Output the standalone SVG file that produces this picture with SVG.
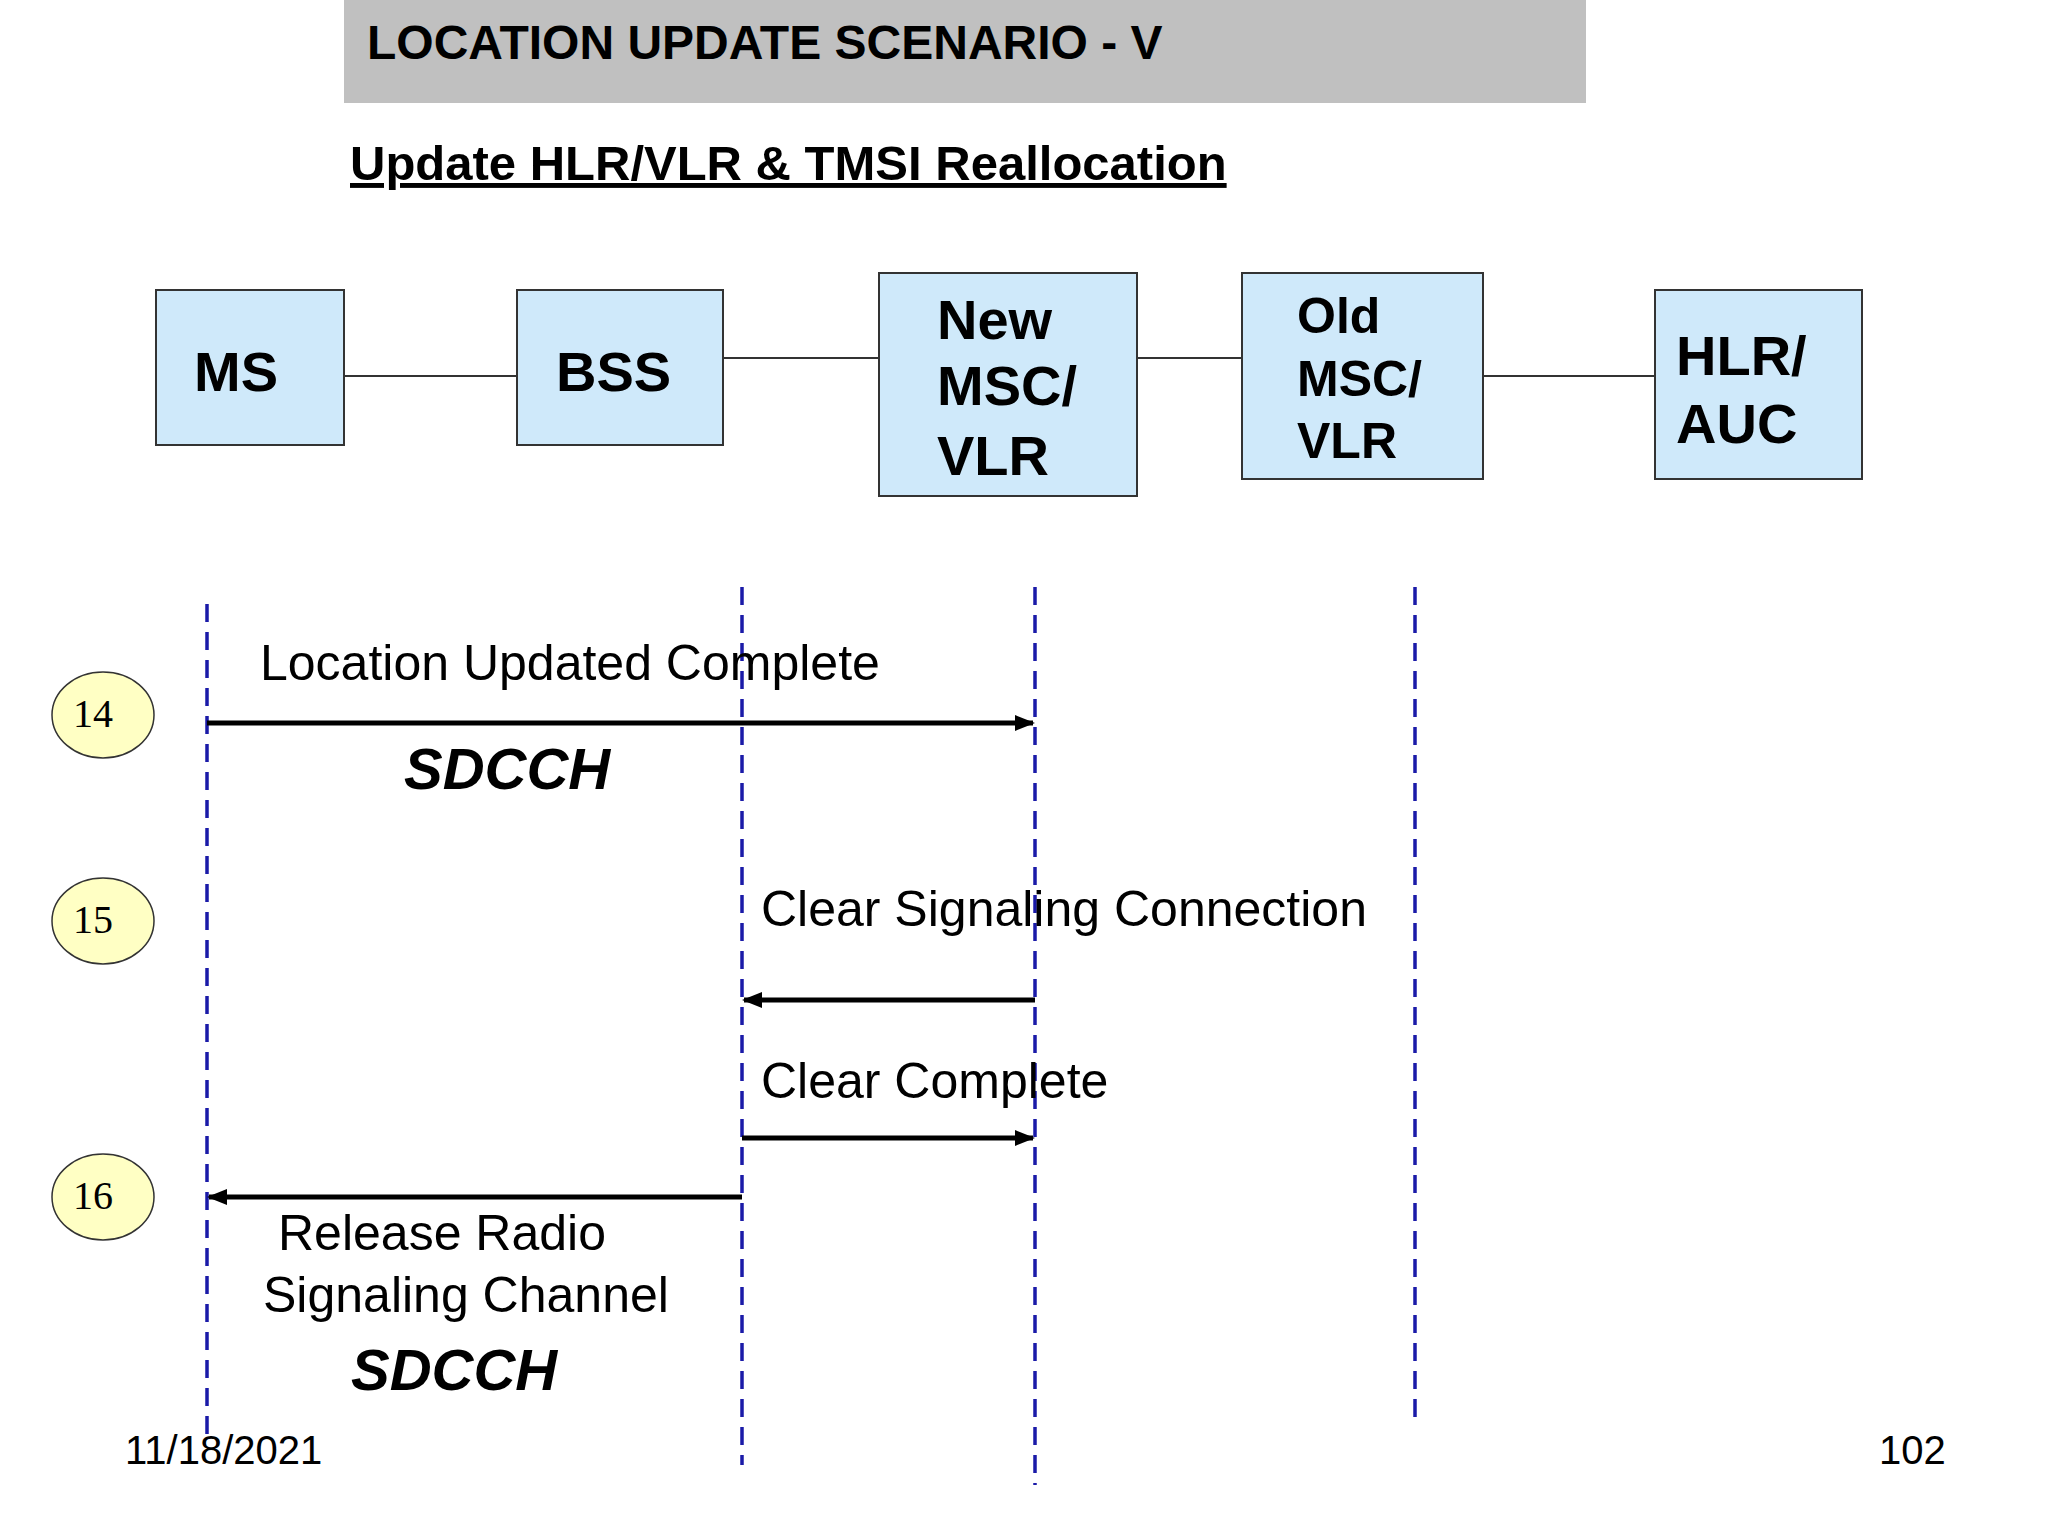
<svg xmlns="http://www.w3.org/2000/svg" width="2048" height="1536" viewBox="0 0 2048 1536">
<style>
.b{fill:#cfe9fa;stroke:#333;stroke-width:2}
.bt{font-family:"Liberation Sans",Arial,sans-serif;font-weight:bold;fill:#000}
.t{font-family:"Liberation Sans",Arial,sans-serif;font-size:50px;fill:#000}
.ll{stroke:#1a1aa8;stroke-width:3.5;stroke-dasharray:18,10}
.ar{stroke:#000;stroke-width:5;marker-end:url(#ah)}
.c{fill:#ffffc4;stroke:#333;stroke-width:1.5}
.ct{font-family:"Liberation Serif",serif;font-size:40px;fill:#000}
</style>
<defs><marker id="ah" viewBox="0 0 10 10" refX="9" refY="5" markerWidth="4" markerHeight="4" orient="auto"><path d="M0,1 L10,5 L0,9 z" fill="#000"/></marker></defs>
<rect width="2048" height="1536" fill="#fff"/>
<rect x="344" y="0" width="1242" height="103" fill="#c0c0c0"/>
<text x="367" y="59" class="bt" font-size="48">LOCATION UPDATE SCENARIO - V</text>
<text x="350" y="180" class="bt" font-size="49" text-decoration="underline">Update HLR/VLR  &amp;  TMSI Reallocation</text>
<g id="links" stroke="#333" stroke-width="2">
<line x1="344" y1="376" x2="517" y2="376"/><line x1="723" y1="358" x2="879" y2="358"/>
<line x1="1137" y1="358" x2="1242" y2="358"/><line x1="1483" y1="376" x2="1655" y2="376"/>
</g>
<g id="ms"><rect class="b" x="156" y="290" width="188" height="155"/><text class="bt" font-size="56" x="194" y="391">MS</text></g>
<g id="bss"><rect class="b" x="517" y="290" width="206" height="155"/><text class="bt" font-size="56" x="556" y="391">BSS</text></g>
<g id="newmsc"><rect class="b" x="879" y="273" width="258" height="223"/><text class="bt" font-size="56" x="937" y="339">New</text><text class="bt" font-size="56" x="937" y="405">MSC/</text><text class="bt" font-size="56" x="937" y="475">VLR</text></g>
<g id="oldmsc"><rect class="b" x="1242" y="273" width="241" height="206"/><text class="bt" font-size="50" x="1297" y="333">Old</text><text class="bt" font-size="50" x="1297" y="396">MSC/</text><text class="bt" font-size="50" x="1297" y="458">VLR</text></g>
<g id="hlr"><rect class="b" x="1655" y="290" width="207" height="189"/><text class="bt" font-size="56" x="1676" y="375">HLR/</text><text class="bt" font-size="56" x="1676" y="443">AUC</text></g>
<g id="lifelines">
<line class="ll" x1="207" y1="604" x2="207" y2="1438"/><line class="ll" x1="742" y1="587" x2="742" y2="1465"/>
<line class="ll" x1="1035" y1="587" x2="1035" y2="1485"/><line class="ll" x1="1415" y1="587" x2="1415" y2="1419"/>
</g>
<g id="connectors">
<line class="ar" x1="207" y1="723" x2="1033" y2="723"/>
<line class="ar" x1="1035" y1="1000" x2="744" y2="1000"/>
<line class="ar" x1="742" y1="1138" x2="1033" y2="1138"/>
<line class="ar" x1="742" y1="1197" x2="209" y2="1197"/>
</g>
<g id="steps">
<ellipse class="c" cx="103" cy="715" rx="51" ry="43"/><text class="ct" x="73" y="727">14</text>
<ellipse class="c" cx="103" cy="921" rx="51" ry="43"/><text class="ct" x="73" y="933">15</text>
<ellipse class="c" cx="103" cy="1197" rx="51" ry="43"/><text class="ct" x="73" y="1209">16</text>
</g>
<g id="labels">
<text class="t" x="260" y="680">Location Updated  Complete</text>
<text class="bt" font-size="58" font-style="italic" x="404" y="789">SDCCH</text>
<text class="t" x="761" y="926">Clear Signaling Connection</text>
<text class="t" x="761" y="1098">Clear Complete</text>
<text class="t" x="278" y="1250">Release Radio</text>
<text class="t" x="263" y="1312">Signaling Channel</text>
<text class="bt" font-size="58" font-style="italic" x="351" y="1390">SDCCH</text>
<text font-family="Liberation Sans,Arial,sans-serif" font-size="40" x="125" y="1464">11/18/2021</text>
<text font-family="Liberation Sans,Arial,sans-serif" font-size="40" x="1879" y="1464">102</text>
</g>
</svg>
